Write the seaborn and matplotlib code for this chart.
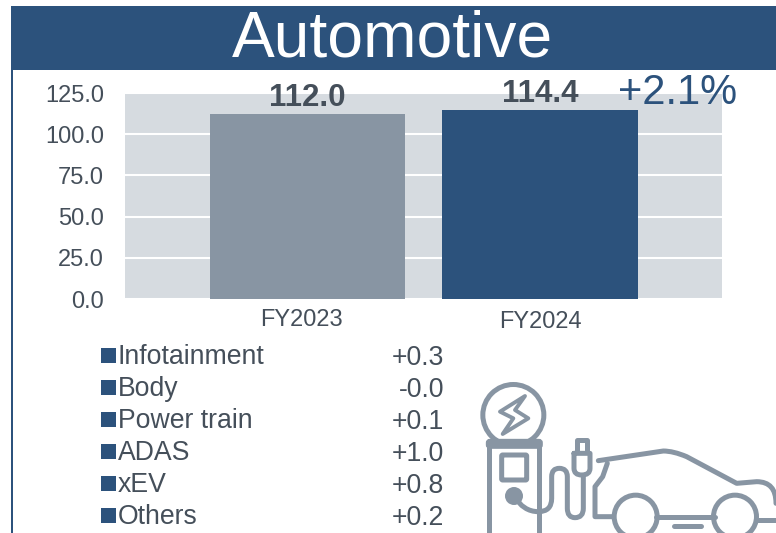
import matplotlib
matplotlib.use("Agg")
from matplotlib.patches import Circle, FancyBboxPatch, PathPatch, Polygon, Rectangle
from matplotlib.path import Path
from matplotlib.transforms import ScaledTranslation
import matplotlib.pyplot as plt
import seaborn as sns
import pandas as pd

years = ["FY2023", "FY2024"]
sales = [112.0, 114.4]
y_ticks = [0, 25, 50, 75, 100, 125]
segments = ["Infotainment", "Body", "Power train", "ADAS", "xEV", "Others"]
changes = ["+0.3", "-0.0", "+0.1", "+1.0", "+0.8", "+0.2"]
growth = "+2.1%"

BLUE = "#2c527c"
GREY = "#8895a3"
TEXT = "#454f5a"
W, H = 776, 533

sns.set_style("white")
plt.rcParams["font.family"] = ["Liberation Sans", "DejaVu Sans"]

df = pd.DataFrame({"year": years, "sales": sales})
fig = plt.figure(figsize=(W / 100, H / 100), dpi=100)

# Chart area, placed in pixels of the reference
ax = fig.add_axes([125 / W, 1 - 299 / H, 597 / W, 206 / H])
ax.set_facecolor("#d6dbe0")
sns.barplot(data=df, x="year", y="sales", hue="year", palette=[GREY, BLUE], width=0.84,
            saturation=1, legend=False, linewidth=0, zorder=3, ax=ax)
ax.set_xlim(-0.785, 1.783)
ax.set_ylim(0, 125)
ax.set_yticks(y_ticks, [f"{t:.1f}" for t in y_ticks])
ax.grid(axis="y", color="white", linewidth=1.5, zorder=1)
ax.set_axisbelow(True)
ax.set_xlabel("")
ax.set_ylabel("")
sns.despine(ax=ax, left=True, bottom=True)
ax.tick_params(axis="y", length=0, pad=15, labelsize=17, labelcolor=TEXT)
ax.tick_params(axis="x", length=0, pad=8.6, labelsize=17, labelcolor=TEXT)
first = ax.get_xticklabels()[0]
first.set_transform(first.get_transform() + ScaledTranslation(-6 / 100, 2 / 100, fig.dpi_scale_trans))
for bars in ax.containers:
    ax.bar_label(bars, fmt="%.1f", padding=1, fontsize=22.5, fontweight="bold", color=TEXT, zorder=5)

# Overlay in pixel coordinates for header, legend and icon
ov = fig.add_axes([0, 0, 1, 1], zorder=5)
ov.set_xlim(0, W)
ov.set_ylim(H, 0)
ov.axis("off")
ov.add_patch(Rectangle((12, 5.5), W - 12, 64.5, color=BLUE, lw=0))
ov.add_patch(Rectangle((11, 5.5), 2, H, color=BLUE, lw=0))
ov.text(392.5, 33, "Automotive", color="white", fontsize=46.2, ha="center", va="center_baseline")
ov.text(737, 89, growth, color=BLUE, fontsize=30, ha="right", va="center_baseline")

for i, (name, change) in enumerate(zip(segments, changes)):
    y = 355 + 32 * i
    ov.add_patch(Rectangle((100.5, y - 7), 15, 15, color=BLUE, lw=0))
    ov.text(118, y - 1, name, color=TEXT, fontsize=19.2, ha="left", va="center_baseline")
    ov.text(444, y, change, color=TEXT, fontsize=19.2, ha="right", va="center_baseline")


def px(x, y):
    # crop coordinates of the icon to figure pixels
    return 470 + x / 3, 370 + y / 3


lw = 3.6
style = dict(color=GREY, lw=lw, fill=False, capstyle="round", joinstyle="round", clip_on=True)


def curve(points):
    codes = [Path.MOVETO]
    verts = [px(*points[0])]
    for p in points[1:]:
        if len(p) == 2:
            verts.append(px(*p))
            codes.append(Path.LINETO)
        else:
            verts += [px(p[0], p[1]), px(p[2], p[3])]
            codes += [Path.CURVE3, Path.CURVE3]
    ov.add_patch(PathPatch(Path(verts, codes), **style))


# Charging post
ov.add_patch(Circle(px(130, 135), 30.5, **style))
ov.add_patch(Polygon([px(*p) for p in [(165, 78), (90, 125), (130, 145), (98, 192), (175, 145), (135, 120)]],
                     closed=True, lw=2.8, color=GREY, fill=False, joinstyle="round"))
ov.add_patch(FancyBboxPatch(px(55, 214), 52, 5, boxstyle="round,pad=0,rounding_size=1.5", color=GREY, lw=lw))
curve([(58, 225), (58, 500)])
curve([(206, 225), (206, 500)])
ov.add_patch(FancyBboxPatch(px(95, 255), 25, 25, boxstyle="round,pad=0,rounding_size=1", **style))
ov.add_patch(Circle(px(132, 378), 9, color=GREY, lw=0))

# Cable and plug
curve([(132, 378), (160, 425, 205, 425), (245, 425, 245, 385), (245, 320), (245, 295, 268, 295),
       (292, 295, 292, 320), (292, 415), (292, 443, 315, 443), (340, 443, 340, 415), (340, 320)])
curve([(312, 250), (312, 295), (312, 315, 335, 315), (360, 315, 360, 295), (360, 250), (312, 250)])
curve([(322, 245), (322, 210), (352, 210), (352, 245)])

# Car
curve([(385, 272), (580, 243), (610, 243, 650, 260), (800, 340), (860, 335), (918, 335, 918, 400)])
curve([(412, 280), (398, 320), (375, 350), (375, 440), (430, 440)])
ov.add_patch(Circle(px(497, 440), 21.5, **style))
ov.add_patch(Circle(px(795, 440), 21.5, **style))
curve([(558, 440), (735, 440)])
curve([(860, 450), (918, 450)])
curve([(612, 468), (692, 468)])

fig.savefig("out.png", dpi=100)
